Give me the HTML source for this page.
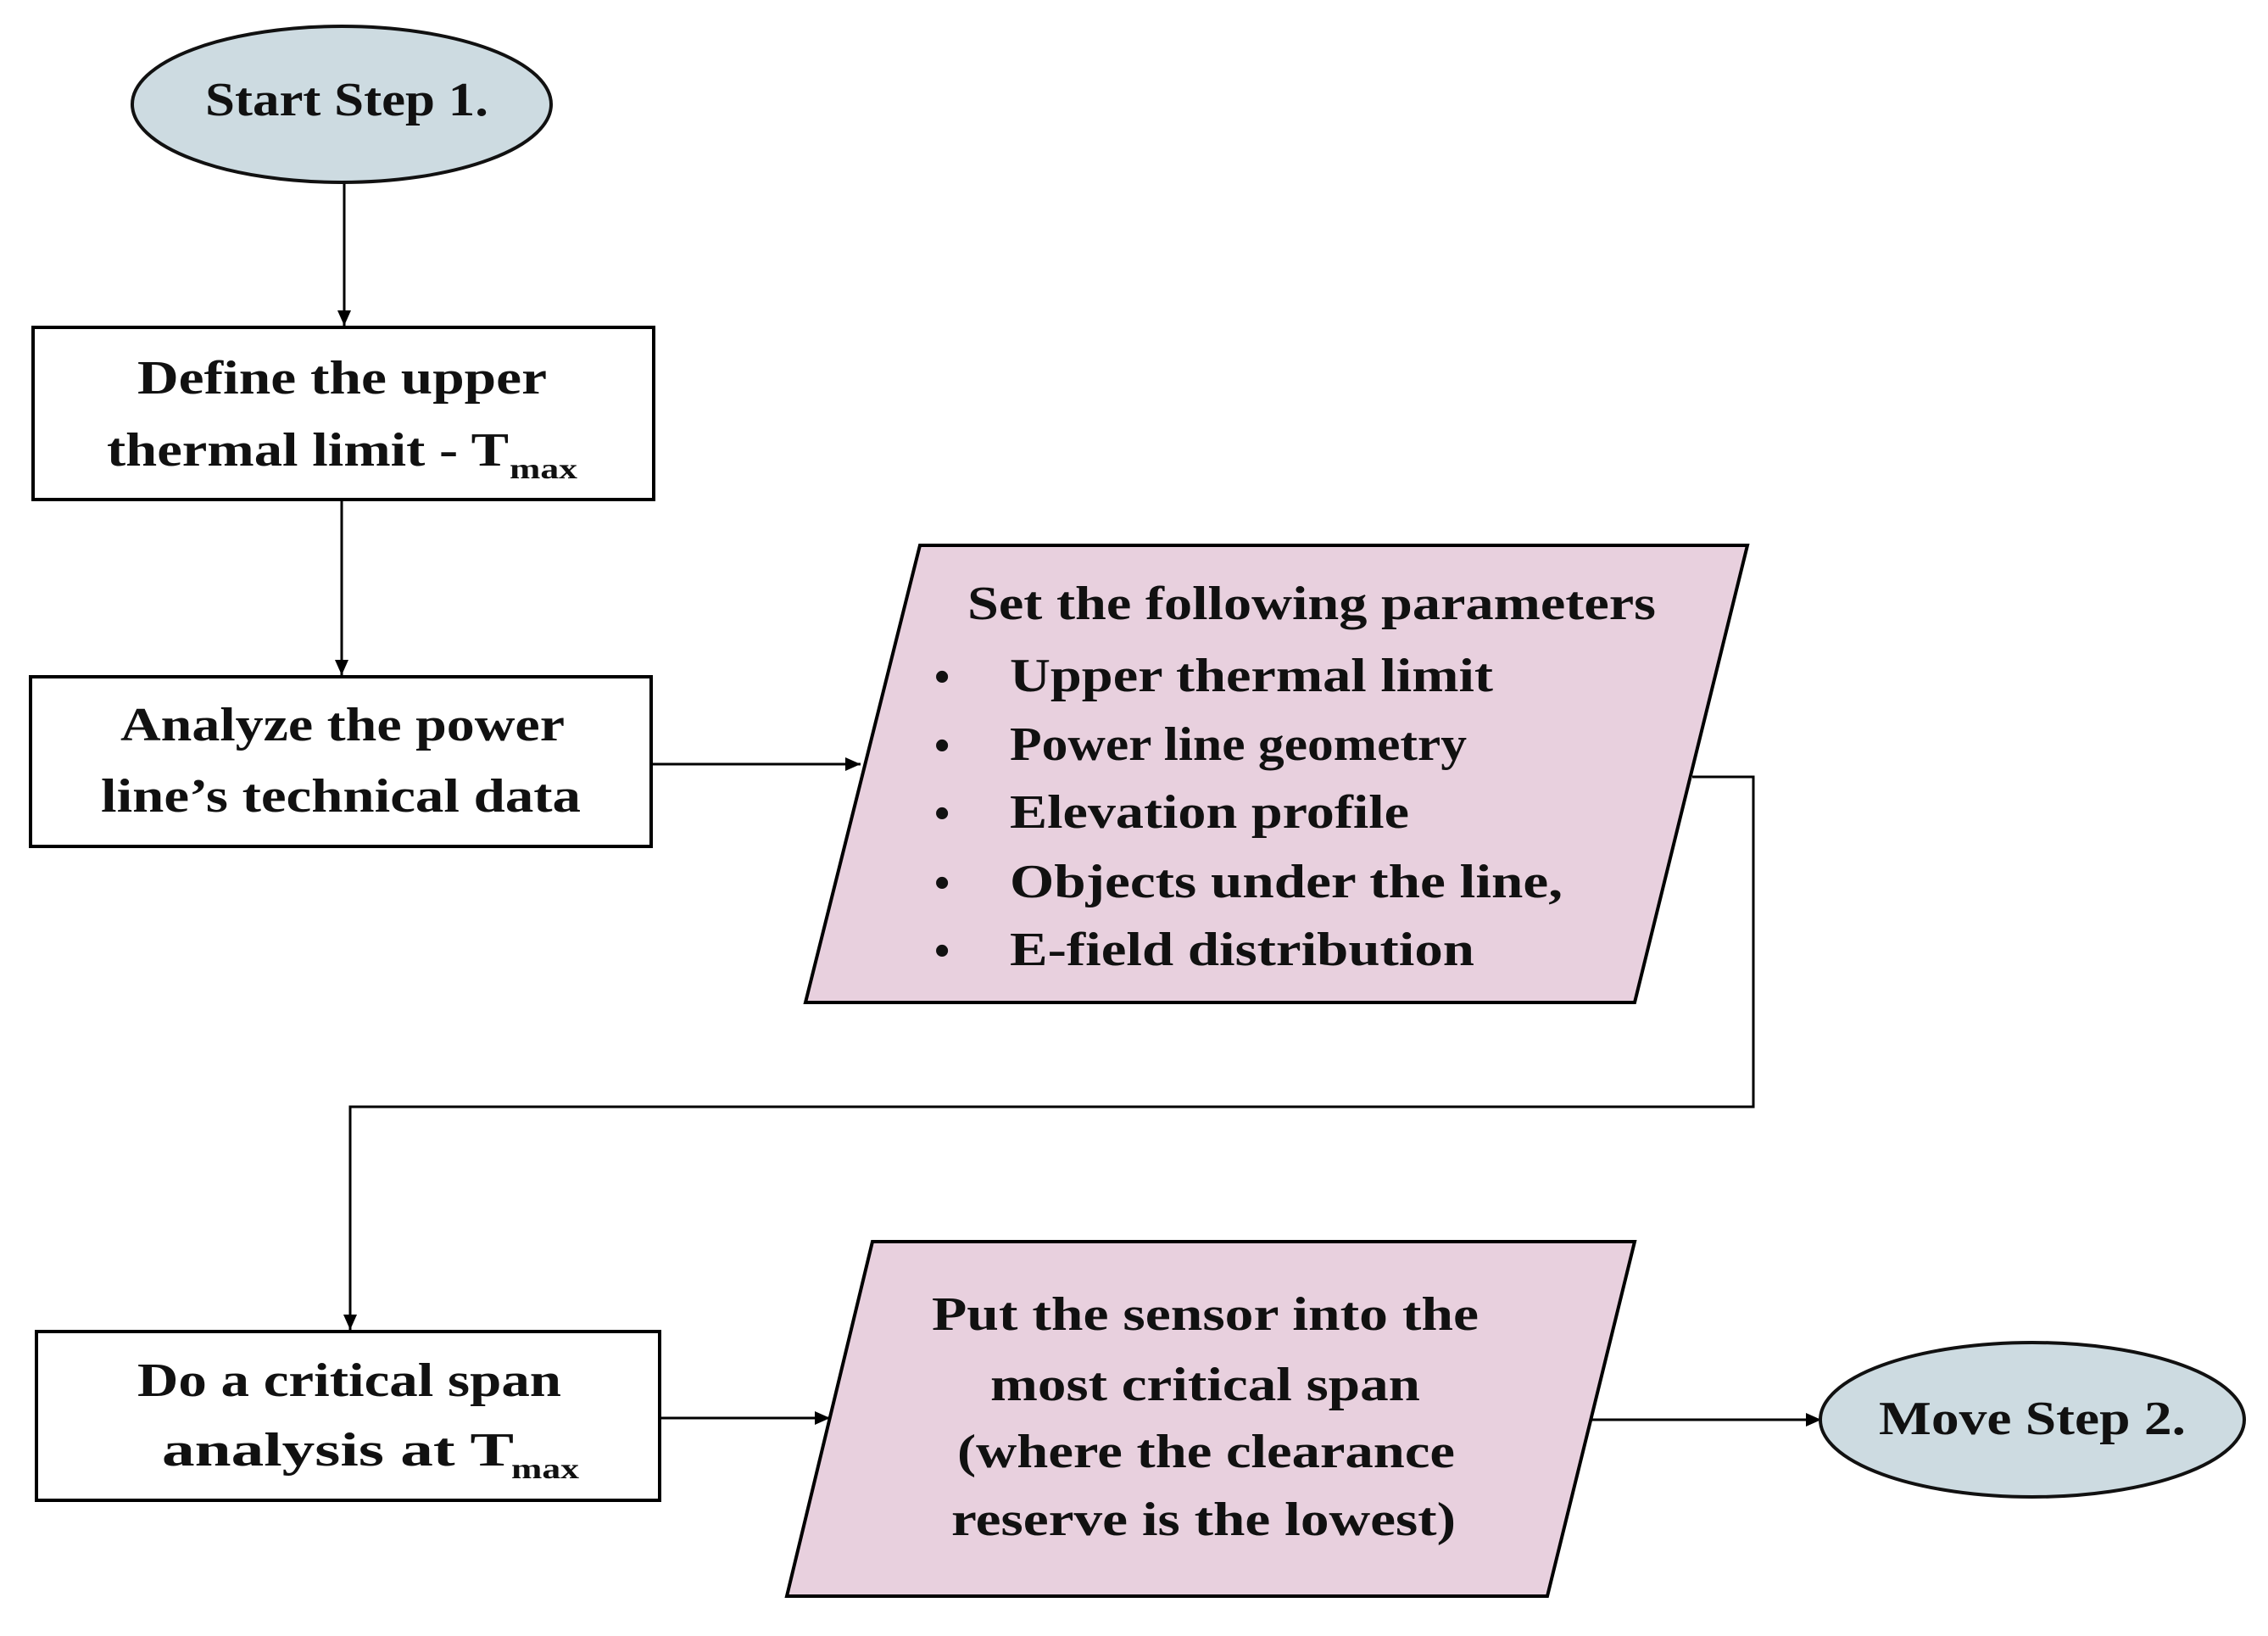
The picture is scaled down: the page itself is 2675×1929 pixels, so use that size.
<!DOCTYPE html>
<html><head><meta charset="utf-8"><style>html,body{margin:0;padding:0;background:#fff}svg{display:block}</style></head>
<body>
<svg width="2675" height="1929" viewBox="0 0 2675 1929" xmlns="http://www.w3.org/2000/svg">
<defs><marker id="a" markerWidth="10" markerHeight="10" refX="9" refY="5" orient="auto" markerUnits="userSpaceOnUse"><path d="M0,0 L10,5 L0,10 z" fill="#000"/></marker>
<marker id="b" markerWidth="20" markerHeight="20" refX="18" refY="8" orient="auto" markerUnits="userSpaceOnUse"><path d="M0,0 L18,8 L0,16 z" fill="#000"/></marker></defs>
<g font-family="Liberation Serif, serif" font-weight="bold" font-size="56" fill="#111" text-anchor="start">
<!-- connectors -->
<g stroke="#000" stroke-width="3" fill="none">
<line x1="406" y1="215" x2="406" y2="384" marker-end="url(#b)"/>
<line x1="403" y1="589" x2="403" y2="796" marker-end="url(#b)"/>
<line x1="768" y1="901" x2="1015" y2="901" marker-end="url(#b)"/>
<polyline points="1996,916 2068,916 2068,1305 413,1305 413,1568" marker-end="url(#b)"/>
<line x1="778" y1="1672" x2="979" y2="1672" marker-end="url(#b)"/>
<line x1="1877" y1="1674" x2="2148" y2="1674" marker-end="url(#b)"/>
</g>
<!-- shapes -->
<ellipse cx="403" cy="123" rx="247" ry="92" fill="#cddbe1" stroke="#111" stroke-width="4"/>
<rect x="39" y="386" width="732" height="203" fill="#fff" stroke="#000" stroke-width="4"/>
<rect x="36" y="798" width="732" height="200" fill="#fff" stroke="#000" stroke-width="4"/>
<polygon points="1085,643 2061,643 1928,1182 950,1182" fill="#e8d0de" stroke="#000" stroke-width="4"/>
<rect x="43" y="1570" width="735" height="199" fill="#fff" stroke="#000" stroke-width="4"/>
<polygon points="1029,1464 1928,1464 1825,1882 928,1882" fill="#e8d0de" stroke="#000" stroke-width="4"/>
<ellipse cx="2397" cy="1674" rx="250" ry="91" fill="#cddbe1" stroke="#111" stroke-width="4"/>
<!-- text -->
<text x="242" y="136" textLength="334" lengthAdjust="spacingAndGlyphs">Start Step 1.</text>
<text x="162" y="464" textLength="483" lengthAdjust="spacingAndGlyphs">Define the upper</text>
<text x="126" y="549" textLength="474" lengthAdjust="spacingAndGlyphs">thermal limit - T</text>
<text x="601" y="564" font-size="34" textLength="80" lengthAdjust="spacingAndGlyphs">max</text>
<text x="142" y="873" textLength="524" lengthAdjust="spacingAndGlyphs">Analyze the power</text>
<text x="119" y="957" textLength="566" lengthAdjust="spacingAndGlyphs">line’s technical data</text>
<text x="1141" y="730" textLength="812" lengthAdjust="spacingAndGlyphs">Set the following parameters</text>
<g font-size="52"><text x="1102" y="815">•</text><text x="1102" y="896">•</text><text x="1102" y="976">•</text><text x="1102" y="1058">•</text><text x="1102" y="1138">•</text></g>
<text x="1191" y="815" textLength="570" lengthAdjust="spacingAndGlyphs">Upper thermal limit</text>
<text x="1191" y="896" textLength="539" lengthAdjust="spacingAndGlyphs">Power line geometry</text>
<text x="1191" y="976" textLength="471" lengthAdjust="spacingAndGlyphs">Elevation profile</text>
<text x="1191" y="1058" textLength="652" lengthAdjust="spacingAndGlyphs">Objects under the line,</text>
<text x="1191" y="1138" textLength="548" lengthAdjust="spacingAndGlyphs">E-field distribution</text>
<text x="162" y="1646" textLength="500" lengthAdjust="spacingAndGlyphs">Do a critical span</text>
<text x="191" y="1728" textLength="415" lengthAdjust="spacingAndGlyphs">analysis at T</text>
<text x="606" y="1743" font-size="34" textLength="26" lengthAdjust="spacingAndGlyphs" dx="0"></text>
<text x="603" y="1743" font-size="34" textLength="28" lengthAdjust="spacingAndGlyphs" opacity="0"></text>
<text x="603" y="1743" font-size="34" textLength="28" lengthAdjust="spacingAndGlyphs" display="none"></text>
<text x="603" y="1743" font-size="34" textLength="80" lengthAdjust="spacingAndGlyphs">max</text>
<text x="1099" y="1568" textLength="645" lengthAdjust="spacingAndGlyphs">Put the sensor into the</text>
<text x="1168" y="1651" textLength="507" lengthAdjust="spacingAndGlyphs">most critical span</text>
<text x="1129" y="1730" textLength="587" lengthAdjust="spacingAndGlyphs">(where the clearance</text>
<text x="1122" y="1810" textLength="595" lengthAdjust="spacingAndGlyphs">reserve is the lowest)</text>
<text x="2216" y="1691" textLength="362" lengthAdjust="spacingAndGlyphs">Move Step 2.</text>
</g>
</svg>
</body></html>
